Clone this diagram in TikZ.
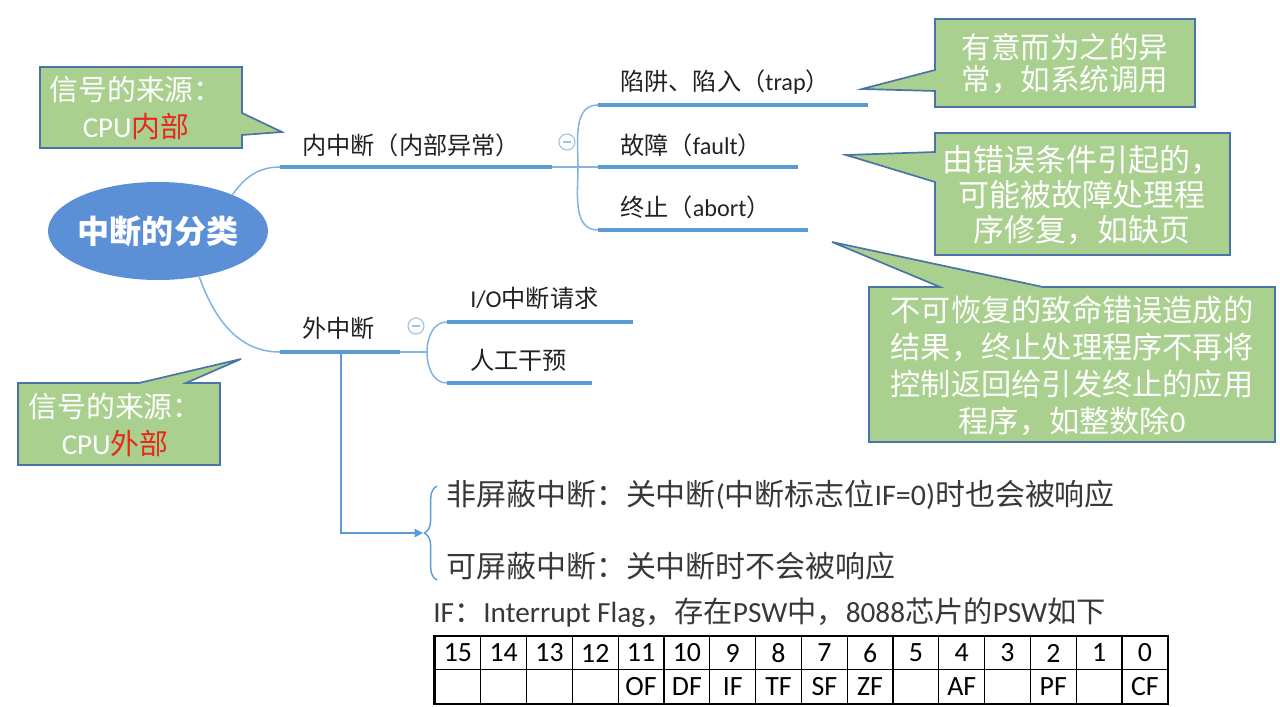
\documentclass[tikz,border=0pt]{standalone}
\usepackage{fontspec}
\setmainfont{Noto Sans CJK SC}
\newfontfamily\lat{Carlito}
\usetikzlibrary{shapes.geometric,arrows.meta,decorations.pathreplacing}

\definecolor{mapblue}{HTML}{5B9BD5}
\definecolor{rootblue}{HTML}{5B8FD6}
\definecolor{notegreen}{HTML}{A9D08E}
\definecolor{noteedge}{HTML}{4A74A8}
\definecolor{txt}{HTML}{222222}
\definecolor{redtxt}{HTML}{E8281E}

\begin{document}
\begin{tikzpicture}[x=0.025cm,y=-0.025cm,
  topic/.style={anchor=west,inner sep=0pt,text=txt,font=\fontsize{17.2}{20}\selectfont},
  uline/.style={mapblue,line width=3.2pt},
  link/.style={mapblue!75,line width=1.1pt},
  note/.style={fill=notegreen,draw=noteedge,line width=1.2pt,line join=miter},
  notetext/.style={text=white,align=center,inner sep=0pt},
  plain/.style={anchor=west,inner sep=0pt,text=txt!90,font=\fontsize{21.3}{25}\selectfont},
  collapse/.style={circle,draw=mapblue!60,line width=0.8pt,minimum size=0.4cm,inner sep=0pt,
    path picture={\draw[mapblue!60,line width=0.8pt]
      ([xshift=-2.6pt]path picture bounding box.center) -- ([xshift=2.6pt]path picture bounding box.center);}},
  cell/.style={draw=black,line width=0.8pt,minimum width=1.145cm,minimum height=0.84cm,inner sep=0pt,
    font=\lat\fontsize{19.8}{22}\selectfont}]

\useasboundingbox (0,0) rectangle (1280,707);

% root of the map
\node[ellipse,fill=rootblue,minimum width=5.5cm,minimum height=2.45cm,inner sep=0pt] (root) at (158,231) {};
\node[text=white,font=\bfseries\fontsize{22.8}{26}\selectfont] (rootlabel) at (root.center) {中断的分类};

% internal branch
\coordinate (inA) at (280,167);
\coordinate (inB) at (552,167);
\coordinate (inC) at (578,167);
\node[topic] (inner) at (302,145) {内中断（内部异常）};
\draw[link] (root.26) to[out=55,in=180] (inA);
\draw[uline] (inA) -- (inB);
\draw[link] (inB) -- (inC);
\node[collapse] (cin) at (567,142) {};

\coordinate (trA) at (598,105);
\coordinate (trB) at (868,105);
\coordinate (faA) at (598,167);
\coordinate (faB) at (798,167);
\coordinate (abA) at (598,230);
\coordinate (abB) at (808,230);
\node[topic] (trap) at (620,82) {陷阱、陷入（{\lat trap}）};
\node[topic] (fault) at (620,145) {故障（{\lat fault}）};
\node[topic] (abort) at (620,207) {终止（{\lat abort}）};
\draw[link] (inC) to[out=90,in=180] (trA);
\draw[link] (inC) -- (faA);
\draw[link] (inC) to[out=-90,in=180] (abA);
\draw[uline] (trA) -- (trB);
\draw[uline] (faA) -- (faB);
\draw[uline] (abA) -- (abB);

% external branch
\coordinate (outA) at (280,352);
\coordinate (outB) at (400,352);
\coordinate (outC) at (427,352);
\node[topic] (outer) at (302,328) {外中断};
\draw[link] (root.-48) to[out=-70,in=180] (outA);
\draw[uline] (outA) -- (outB);
\draw[link] (outB) -- (outC);
\node[collapse] (cout) at (416,326) {};

\coordinate (ioA) at (447,322);
\coordinate (ioB) at (633,322);
\coordinate (maA) at (447,383);
\coordinate (maB) at (592,383);
\node[topic] (io) at (470,298) {{\lat I/O}中断请求};
\node[topic] (manual) at (470,360) {人工干预};
\draw[link] (outC) to[out=90,in=180] (ioA);
\draw[link] (outC) to[out=-90,in=180] (maA);
\draw[uline] (ioA) -- (ioB);
\draw[uline] (maA) -- (maB);

% callouts
\draw[note] (40,67) -- (242,67) -- (242,113) -- (282,132) -- (242,135) -- (242,148) -- (40,148) -- cycle;
\node[notetext,font=\fontsize{20.5}{26.3}\selectfont] (srcin) at (136,108)
  {信号的来源：\\{\lat CPU}\textcolor{redtxt}{内部}};

\draw[note] (18,383) -- (139,383) -- (241,359) -- (186,383) -- (220,383) -- (220,465) -- (18,465) -- cycle;
\node[notetext,font=\fontsize{20.5}{26.3}\selectfont] (srcout) at (115,425)
  {信号的来源：\\{\lat CPU}\textcolor{redtxt}{外部}};

\draw[note] (935,19) -- (1195,19) -- (1195,107) -- (935,107) -- (935,91) -- (862,89) -- (935,70) -- cycle;
\node[notetext,font=\fontsize{21}{22.8}\selectfont] (notetrap) at (1065,64)
  {有意而为之的异\\常，如系统调用};

\draw[note] (935,133) -- (1230,133) -- (1230,255) -- (935,255) -- (935,182) -- (846,155) -- (935,152) -- cycle;
\node[notetext,font=\fontsize{22}{24.9}\selectfont] (notefault) at (1082,195)
  {由错误条件引起的，\\可能被故障处理程\\序修复，如缺页};

\draw[note] (869,287) -- (940,287) -- (832,242) -- (1043,287) -- (1275,287) -- (1275,442) -- (869,442) -- cycle;
\node[notetext,font=\fontsize{21.5}{26.3}\selectfont] (noteabort) at (1072,366)
  {不可恢复的致命错误造成的\\结果，终止处理程序不再将\\控制返回给引发终止的应用\\程序，如整数除{\lat 0}};

% maskable or not
\coordinate (drop) at (341,352);
\coordinate (bt) at (423,533);
\draw[mapblue,line width=0.9pt,-{Triangle[length=6pt,width=6pt]}] (drop) |- (bt);
\draw[mapblue,line width=1pt,decorate,decoration={brace,amplitude=9pt}] (437,580) -- (437,486);
\node[plain] (nmi) at (446,495) {非屏蔽中断：关中断{\lat (}中断标志位{\lat IF=0)}时也会被响应};
\node[plain] (mi) at (446,566) {可屏蔽中断：关中断时不会被响应};
\node[plain,font=\fontsize{20.8}{25}\selectfont] (ifnote) at (433,613)
  {{\lat IF}：{\lat Interrupt Flag}，存在{\lat PSW}中，{\lat 8088}芯片的{\lat PSW}如下};

% PSW of the 8088
\foreach \b/\f [count=\i from 0] in {15/{},14/{},13/{},12/{},11/OF,10/DF,9/IF,8/TF,7/SF,6/ZF,5/{},4/AF,3/{},2/PF,1/{},0/CF}{
  \node[cell] (b\i) at ({435+45.8*(\i+0.5)},653) {\b};
  \node[cell] (f\i) at ({435+45.8*(\i+0.5)},686.5) {\f};
}
\draw[line width=1.4pt] (b0.north west) rectangle (f15.south east);

\end{tikzpicture}
\end{document}
